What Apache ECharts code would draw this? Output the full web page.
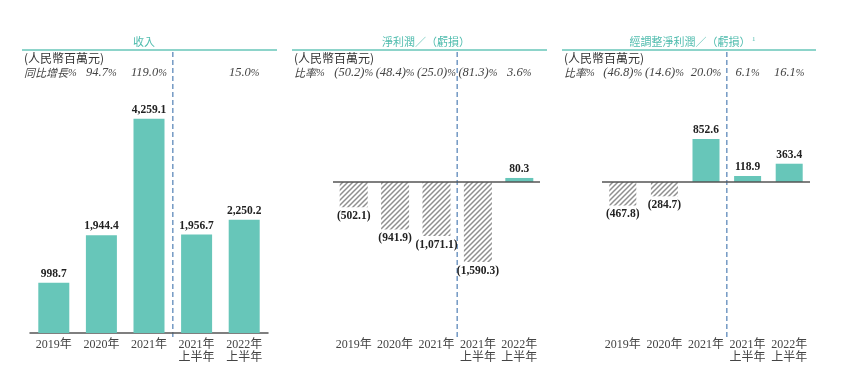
<!DOCTYPE html>
<html><head><meta charset="utf-8">
<script src="https://cdn.jsdelivr.net/npm/echarts@6/dist/echarts.min.js"></script>
<style>html,body{margin:0;padding:0;background:#fff}#c{width:865px;height:388px}</style>
</head><body><div id="c"></div>
<script>
// ---- data ----
const categories = ['2019年','2020年','2021年','2021年\n上半年','2022年\n上半年'];
const revenue = [998.7, 1944.4, 4259.1, 1956.7, 2250.2];
const netProfit = [-502.1, -941.9, -1071.1, -1590.3, 80.3];
const adjNetProfit = [-467.8, -284.7, 852.6, 118.9, 363.4];
const revenueGrowth = [null, 94.7, 119.0, null, 15.0];
const netMargin = [-50.2, -48.4, -25.0, -81.3, 3.6];
const adjNetMargin = [-46.8, -14.6, 20.0, 6.1, 16.1];
const panelTitles = ['收入', '淨利潤／（虧損）', '經調整淨利潤／（虧損）'];
const unitText = '(人民幣百萬元)';
const rateLabels = ['同比增長', '比率', '比率'];

// ---- style ----
const TEAL = '#67c6b9';
const SERIF = '"Liberation Serif","Noto Sans CJK TC",serif';
const K = 0.0503; // px per unit (shared scale)
const BASE1 = 333, BASE2 = 182;

function hatch() {
  const s = 5, c = document.createElement('canvas');
  c.width = c.height = s;
  const g = c.getContext('2d');
  g.fillStyle = '#fff'; g.fillRect(0, 0, s, s);
  g.strokeStyle = '#8f8f8f'; g.lineWidth = 1.5;
  g.beginPath();
  g.moveTo(0, s); g.lineTo(s, 0);
  g.moveTo(-1, 1); g.lineTo(1, -1);
  g.moveTo(s - 1, s + 1); g.lineTo(s + 1, s - 1);
  g.stroke();
  return c;
}
const HATCH = { image: hatch(), repeat: 'repeat' };

const fmt = v => Math.abs(v).toLocaleString('en-US', {minimumFractionDigits: 1, maximumFractionDigits: 1});
const fmtRate = v => (v < 0 ? '{n|(' + fmt(v) + ')}' : '{n|' + fmt(v) + '}') + '{p|%}';

function items(arr) {
  return arr.map(v => ({
    value: v,
    itemStyle: { color: v < 0 ? HATCH : TEAL },
    label: { position: v < 0 ? 'bottom' : 'top', formatter: () => v < 0 ? '(' + fmt(v) + ')' : fmt(v) }
  }));
}

const grids = [
  { left: 30, width: 238, top: BASE1 - 4400 * K, height: 4400 * K },
  { left: 333, width: 207, top: BASE2 - 1000 * K, height: 4000 * K },
  { left: 602, width: 208, top: BASE2 - 1000 * K, height: 4000 * K }
];
const yRanges = [[0, 4400], [-3000, 1000], [-3000, 1000]];
const datasets = [revenue, netProfit, adjNetProfit];
const barWidths = [31, 28, 27];

const option = {
  animation: false,
  backgroundColor: '#fff',
  grid: grids,
  xAxis: grids.map((g, i) => ({
    type: 'category', gridIndex: i, data: categories,
    axisLine: { show: i === 0, onZero: false, lineStyle: { color: '#555', width: 1.5 } },
    axisTick: { show: false },
    axisLabel: { interval: 0, margin: 5, fontSize: 12, lineHeight: 13, color: '#444', fontFamily: SERIF }
  })),
  yAxis: grids.map((g, i) => ({
    type: 'value', gridIndex: i, min: yRanges[i][0], max: yRanges[i][1], show: false,
    splitLine: { show: false }
  })),
  series: datasets.map((d, i) => ({
    type: 'bar', xAxisIndex: i, yAxisIndex: i, data: items(d), barWidth: barWidths[i],
    label: { show: true, distance: 3, fontSize: 11.5, fontWeight: 'bold', color: '#222', fontFamily: SERIF },
    markLine: i === 0 ? undefined : {
      silent: true, symbol: 'none', label: { show: false },
      lineStyle: { color: '#555', width: 1.5, type: 'solid' },
      data: [{ yAxis: 0 }]
    }
  }))
};

const chart = echarts.init(document.getElementById('c'), null, { renderer: 'canvas' });
chart.setOption(option);

// ---- header / decorations ----
const headers = [[22, 277], [292, 547], [562, 816]];
const titleCenters = [144, 426, 690];
const rates = [revenueGrowth, netMargin, adjNetMargin];
const rateRich = {
  n: { fontFamily: '"Liberation Serif"', fontStyle: 'italic', fontSize: 12.5, fill: '#444' },
  p: { fontFamily: '"Liberation Serif"', fontStyle: 'italic', fontSize: 10.5, fill: '#444' },
  c: { fontFamily: '"Noto Sans CJK TC"', fontStyle: 'italic', fontSize: 11, fill: '#444' }
};
const gfx = [];
headers.forEach((h, i) => {
  gfx.push({ type: 'line', shape: { x1: h[0], y1: 50, x2: h[1], y2: 50 }, style: { stroke: TEAL, lineWidth: 1.6 }, silent: true });
  gfx.push({ type: 'text', style: { text: panelTitles[i], x: titleCenters[i], y: 42, textAlign: 'center', textVerticalAlign: 'middle', font: '11px "Noto Sans CJK TC"', fill: '#4fbcae' } });
  if (i === 2) {
    gfx.push({ type: 'text', style: { text: '1', x: titleCenters[i] + 62, y: 39, textAlign: 'left', textVerticalAlign: 'middle', font: '7px "Liberation Serif"', fill: '#4fbcae' } });
  }
  gfx.push({ type: 'text', style: { text: unitText, x: h[0] + 2, y: 58, textAlign: 'left', textVerticalAlign: 'middle', font: '12px "Noto Sans CJK TC"', fill: '#333' } });
  gfx.push({ type: 'text', style: { text: '{c|' + rateLabels[i] + '}{p|%}', x: h[0] + 2, y: 73, textAlign: 'left', textVerticalAlign: 'middle', rich: rateRich } });
  rates[i].forEach((r, j) => {
    if (r == null) return;
    const x = chart.convertToPixel({ xAxisIndex: i }, j);
    gfx.push({ type: 'text', style: { text: fmtRate(r), x: x, y: 73, textAlign: 'center', textVerticalAlign: 'middle', rich: rateRich } });
  });
  const xd = (chart.convertToPixel({ xAxisIndex: i }, 2) + chart.convertToPixel({ xAxisIndex: i }, 3)) / 2;
  gfx.push({ type: 'line', shape: { x1: xd, y1: 52, x2: xd, y2: 338 }, style: { stroke: '#7399c4', lineWidth: 1.5, lineDash: [5, 3] }, silent: true });
});
chart.setOption({ graphic: gfx });
</script>
</body></html>
